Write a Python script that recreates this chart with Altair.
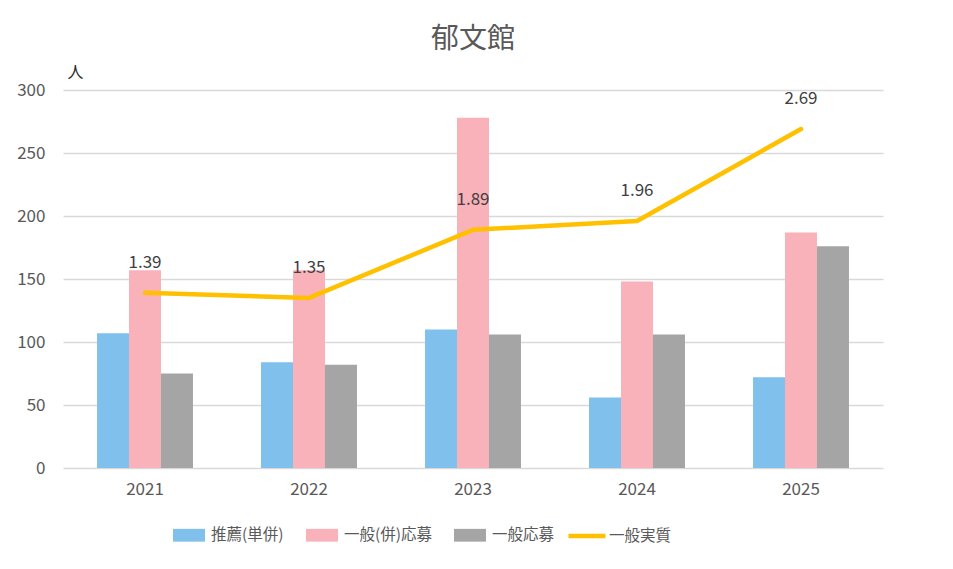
import altair as alt
import pandas as pd

years = ["2021", "2022", "2023", "2024", "2025"]
series = ["推薦(単併)", "一般(併)応募", "一般応募"]
suisen = [107, 84, 110, 56, 72]
ippan_hei = [157, 157, 278, 148, 187]
ippan = [75, 82, 106, 106, 176]
line_name = "一般実質"
jisshitsu = [1.39, 1.35, 1.89, 1.96, 2.69]
bar_colors = ["#7FC0EC", "#F9B1BA", "#A5A5A5"]
line_color = "#FFC000"

FONT = "Noto Sans CJK JP"
LBL = 17

rows = []
for i, y in enumerate(years):
    for s, vals in zip(series, [suisen, ippan_hei, ippan]):
        rows.append({"year": y, "series": s, "value": vals[i]})
bars_df = pd.DataFrame(rows)
line_df = pd.DataFrame({"year": years, "ratio": jisshitsu, "name": [line_name] * len(years)})

x_enc = alt.X(
    "year:N",
    sort=years,
    title=None,
    scale=alt.Scale(paddingInner=0.415, paddingOuter=0.2075),
    axis=alt.Axis(labelAngle=0, domain=False, ticks=False, grid=False,
                  labelPadding=13, labelFontSize=LBL, labelColor="#595959", labelFont=FONT),
)

bars = alt.Chart(bars_df).mark_bar().encode(
    x=x_enc,
    xOffset=alt.XOffset("series:N", sort=series, scale=alt.Scale(domain=series, paddingInner=0, paddingOuter=0)),
    y=alt.Y(
        "value:Q",
        scale=alt.Scale(domain=[0, 300], nice=False),
        axis=alt.Axis(
            values=[0, 50, 100, 150, 200, 250, 300], grid=True, gridColor="#D9D9D9", gridWidth=1.3,
            domain=False, ticks=False, labelPadding=18, labelFontSize=LBL, labelColor="#595959",
            labelFont=FONT, title="人", titleAngle=0, titleX=12, titleY=-18, titleAlign="center",
            titleBaseline="middle", titleFontSize=16, titleFontWeight="normal", titleColor="#262626",
            titleFont=FONT,
        ),
    ),
    color=alt.Color(
        "series:N",
        sort=series,
        scale=alt.Scale(domain=series, range=bar_colors),
        legend=alt.Legend(
            title=None, orient="none", direction="horizontal", legendX=110, legendY=429,
            symbolType="M-1,-0.4H1V0.4H-1Z", symbolSize=1024, symbolStrokeWidth=0,
            labelFontSize=15.5, labelColor="#595959", labelFont=FONT, labelOffset=6,
            columnPadding=22,
        ),
    ),
)

line = alt.Chart(line_df).mark_line(strokeWidth=4.5, strokeCap="round", strokeJoin="round").encode(
    x=x_enc,
    y=alt.Y(
        "ratio:Q",
        scale=alt.Scale(domain=[0, 3], nice=False),
        axis=alt.Axis(
            orient="right", values=[0, 0.5, 1, 1.5, 2, 2.5, 3], format=".2f", grid=False,
            domain=False, ticks=False, labelPadding=18, labelFontSize=LBL, labelColor="#595959",
            labelFont=FONT, title="倍", titleAngle=0, titleX=-31, titleY=-20, titleAlign="center",
            titleBaseline="middle", titleFontSize=16, titleFontWeight="normal", titleColor="#262626",
            titleFont=FONT,
        ),
    ),
    stroke=alt.Stroke(
        "name:N",
        scale=alt.Scale(domain=[line_name], range=[line_color]),
        legend=alt.Legend(
            title=None, orient="none", direction="horizontal", legendX=503, legendY=425,
            symbolType="stroke", symbolSize=1369, symbolStrokeWidth=4.5,
            labelFontSize=15.5, labelColor="#595959", labelFont=FONT, labelOffset=1,
        ),
    ),
)

labels = alt.Chart(line_df).mark_text(dy=-30, fontSize=LBL, color="#404040", font=FONT, baseline="middle").encode(
    x=x_enc,
    y=alt.Y("ratio:Q", scale=alt.Scale(domain=[0, 3], nice=False), axis=None),
    text=alt.Text("ratio:Q", format=".2f"),
)

chart = alt.layer(bars, alt.layer(line, labels)).resolve_scale(y="independent").properties(
    width=820,
    height=378,
    padding={"left": 55, "top": 82, "right": 60, "bottom": 90},
    autosize=alt.AutoSizeParams(type="none"),
    title=alt.TitleParams("郁文館", fontSize=28, color="#595959", font=FONT, fontWeight="normal",
                          anchor="middle", offset=10),
).configure_view(stroke=None)

chart.save("out.html", embed_options={"renderer": "svg", "actions": False})
